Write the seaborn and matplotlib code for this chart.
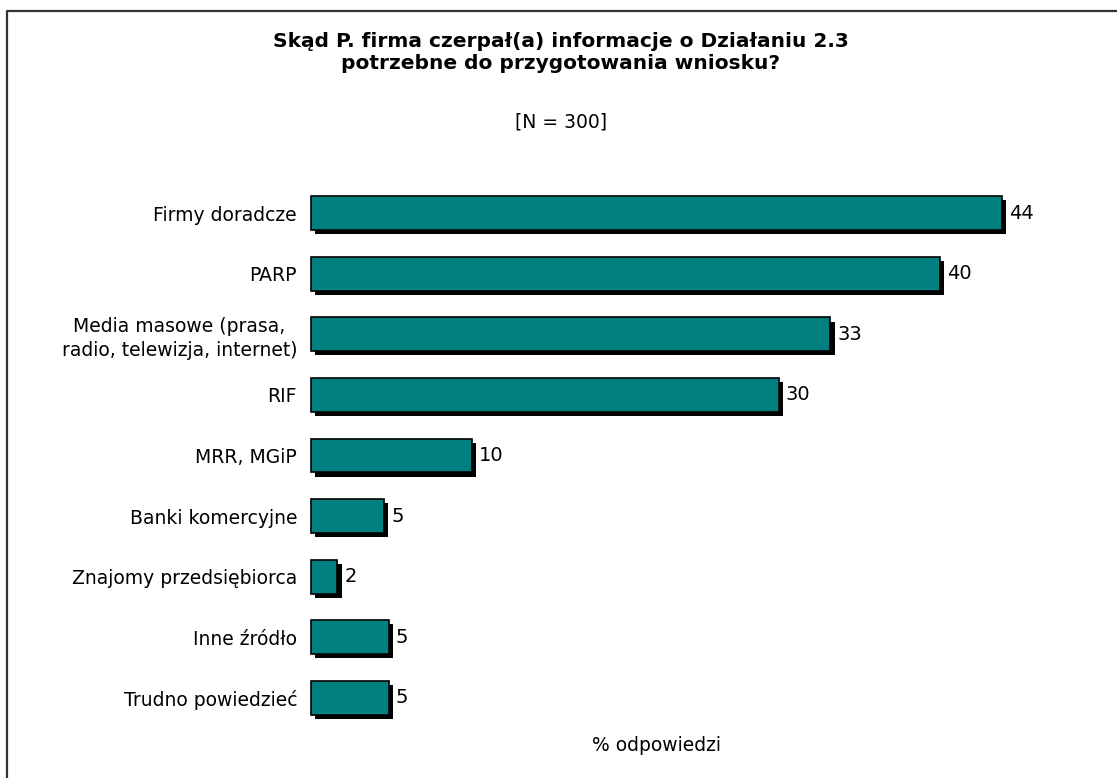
import matplotlib.pyplot as plt
import matplotlib.patheffects as pe
import pandas as pd
import seaborn as sns

# Answer categories and share of respondents (%), N = 300
categories = [
    "Firmy doradcze",
    "PARP",
    "Media masowe (prasa,\nradio, telewizja, internet)",
    "RIF",
    "MRR, MGiP",
    "Banki komercyjne",
    "Znajomy przedsiębiorca",
    "Inne źródło",
    "Trudno powiedzieć",
]
values = [44.3, 40.3, 33.3, 30.0, 10.3, 4.7, 1.7, 5.0, 5.0]

title = "Skąd P. firma czerpał(a) informacje o Działaniu 2.3\npotrzebne do przygotowania wniosku?"
subtitle = "[N = 300]"
xlabel = "% odpowiedzi"

df = pd.DataFrame({"source": categories, "pct": values})

sns.set_style("white")
plt.rcParams["font.family"] = ["DejaVu Sans"]
plt.rcParams["text.color"] = "black"
plt.rcParams["axes.labelcolor"] = "black"
plt.rcParams["ytick.color"] = "black"

fig = plt.figure(figsize=(11.17, 7.78), dpi=100)
ax = fig.add_axes([0.2784, 0.0643, 0.6187, 0.7005])

sns.barplot(data=df, x="pct", y="source", orient="h", color="#008080",
            edgecolor="black", linewidth=1.2, width=0.56, saturation=1, ax=ax)

# drop shadow under each bar
for bar in ax.patches:
    bar.set_path_effects([
        pe.SimplePatchShadow(offset=(3, -3), shadow_rgbFace="black", alpha=1),
        pe.Normal(),
    ])
    bar.set_clip_on(False)

ax.bar_label(ax.containers[0], labels=[f"{v:.0f}" for v in values],
             padding=5, fontsize=14, color="black")

ax.set_xlim(0, max(values))
ax.set_xticks([])
ax.set_ylabel("")
ax.set_xlabel(xlabel, fontsize=13.5, labelpad=6)
ax.tick_params(axis="y", length=0, pad=10, labelsize=13.5)
for lbl in ax.get_yticklabels():
    lbl.set_multialignment("center")
    lbl.set_linespacing(1.3)
for s in ax.spines.values():
    s.set_visible(False)

fig.text(0.502, 0.932, title, ha="center", va="center", fontsize=14.5,
         fontweight="bold", linespacing=1.2)
fig.text(0.502, 0.843, subtitle, ha="center", va="center", fontsize=13.5)

# outer frame (top and left edge)
fig.add_artist(plt.Line2D([0.0063, 0.0063, 1.0], [0.0, 0.9859, 0.9859],
                          transform=fig.transFigure, color="#333333", linewidth=1.6))

fig.savefig("out.png", dpi=100)
